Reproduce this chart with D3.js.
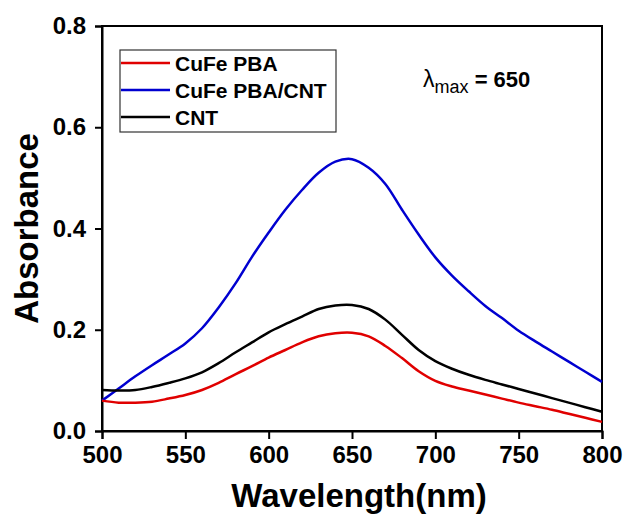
<!DOCTYPE html>
<html>
<head>
<meta charset="utf-8">
<script src="https://cdn.jsdelivr.net/npm/d3@7"></script>
<style>
  body { margin: 0; background: #fff; }
  text { font-family: "Liberation Sans", Arial, sans-serif; }
</style>
</head>
<body>
<svg width="625" height="520"></svg>
<script>
const wavelengths = d3.range(500, 801, 10);

const cufePba = [0.060, 0.056, 0.056, 0.058, 0.064, 0.071, 0.081, 0.095, 0.112, 0.128,
  0.145, 0.160, 0.175, 0.187, 0.193, 0.194, 0.187, 0.168, 0.144, 0.118,
  0.099, 0.088, 0.080, 0.072, 0.064, 0.056, 0.049, 0.042, 0.034, 0.026, 0.018];

const cufePbaCnt = [0.060, 0.084, 0.108, 0.130, 0.151, 0.173, 0.203, 0.244, 0.291, 0.344,
  0.392, 0.437, 0.476, 0.510, 0.532, 0.537, 0.520, 0.488, 0.437, 0.388,
  0.343, 0.307, 0.276, 0.247, 0.223, 0.198, 0.177, 0.157, 0.137, 0.117, 0.097];

const cnt = [0.081, 0.080, 0.081, 0.087, 0.095, 0.104, 0.116, 0.134, 0.155, 0.175,
  0.195, 0.211, 0.226, 0.241, 0.248, 0.249, 0.241, 0.220, 0.190, 0.160,
  0.138, 0.123, 0.111, 0.101, 0.092, 0.083, 0.074, 0.065, 0.056, 0.047, 0.038];

const seriesNames = ['CuFe PBA', 'CuFe PBA/CNT', 'CNT'];
const seriesColors = ['#e00000', '#0000d0', '#000000'];
const xTicks = [500, 550, 600, 650, 700, 750, 800];
const yTicks = [0.0, 0.2, 0.4, 0.6, 0.8];

const svg = d3.select('svg');
const margin = {top: 26, right: 23, bottom: 89, left: 102};
const width = +svg.attr('width');
const height = +svg.attr('height');
const innerWidth = width - margin.left - margin.right;
const innerHeight = height - margin.top - margin.bottom;

const xScale = d3.scaleLinear().domain([500, 800]).range([0, innerWidth]);
const yScale = d3.scaleLinear().domain([0, 0.8]).range([innerHeight, 0]);

const g = svg.append('g')
  .attr('transform', `translate(${margin.left}, ${margin.top})`);

// frame
g.append('rect')
  .attr('width', innerWidth).attr('height', innerHeight)
  .attr('fill', 'none').attr('stroke', '#000').attr('stroke-width', 2);

const xAxis = g.append('g')
  .attr('transform', `translate(0, ${innerHeight})`)
  .call(d3.axisBottom(xScale).tickValues(xTicks).tickSize(8).tickPadding(7).tickFormat(d3.format('d')));
const yAxis = g.append('g')
  .call(d3.axisLeft(yScale).tickValues(yTicks).tickSize(7).tickPadding(9).tickFormat(d3.format('.1f')));

[xAxis, yAxis].forEach(ax => {
  ax.select('.domain').attr('stroke-width', 2);
  ax.selectAll('.tick line').attr('stroke-width', 2);
  ax.selectAll('.tick text')
    .attr('font-family', '"Liberation Sans", Arial, sans-serif')
    .attr('font-size', 24).attr('font-weight', 'bold').attr('fill', '#000');
});

const allSeries = [cufePba, cufePbaCnt, cnt];
const line = d3.line()
  .x((d, i) => xScale(wavelengths[i]))
  .y(d => yScale(d))
  .curve(d3.curveCatmullRom.alpha(0.5));

// blue first, then black, then red on top
[1, 2, 0].forEach(k => {
  g.append('path')
    .datum(allSeries[k])
    .attr('fill', 'none')
    .attr('stroke', seriesColors[k])
    .attr('stroke-width', 2.5)
    .attr('d', line);
});

// legend
const legend = g.append('g').attr('transform', 'translate(18, 24)');
legend.append('rect')
  .attr('width', 216).attr('height', 82)
  .attr('fill', '#fff').attr('stroke', '#333').attr('stroke-width', 1.2);
seriesNames.forEach((name, i) => {
  const y = 13 + i * 27;
  legend.append('line')
    .attr('x1', 1).attr('x2', 50).attr('y1', y).attr('y2', y)
    .attr('stroke', seriesColors[i]).attr('stroke-width', 2.5);
  legend.append('text')
    .attr('x', 55).attr('y', y + 7.5)
    .attr('font-size', 21).attr('font-weight', 'bold')
    .text(name);
});

// lambda max annotation
const lam = g.append('text').attr('x', 321).attr('y', 61).attr('fill', '#000');
lam.append('tspan').attr('font-size', 23).text('λ');
lam.append('tspan').attr('font-size', 18).attr('dy', 6).text('max');
lam.append('tspan').attr('font-size', 22).attr('font-weight', 'bold').attr('dy', -6).text(' = 650');

// axis titles
svg.append('text')
  .attr('x', margin.left + innerWidth / 2 + 7).attr('y', 507)
  .attr('text-anchor', 'middle')
  .attr('font-size', 33).attr('font-weight', 'bold')
  .text('Wavelength(nm)');

svg.append('text')
  .attr('transform', `translate(38, ${margin.top + innerHeight / 2}) rotate(-90)`)
  .attr('text-anchor', 'middle')
  .attr('font-size', 33).attr('font-weight', 'bold')
  .text('Absorbance');
</script>
</body>
</html>
